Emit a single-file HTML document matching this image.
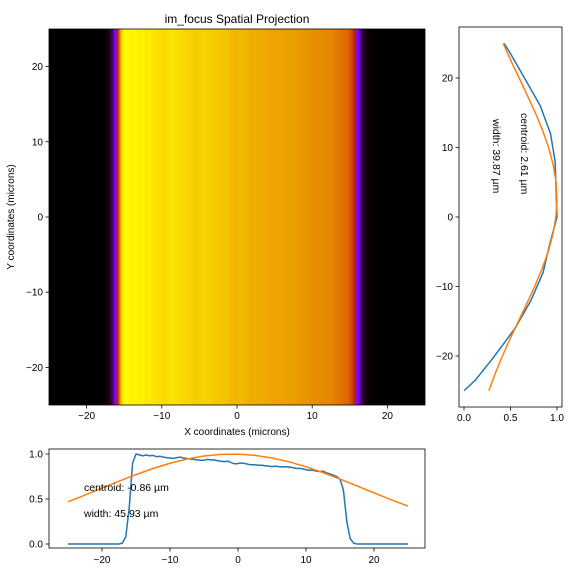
<!DOCTYPE html>
<html><head><meta charset="utf-8"><style>
body{margin:0;background:#fff;width:576px;height:576px;overflow:hidden}
svg{font-family:"Liberation Sans","DejaVu Sans",sans-serif}
</style></head><body>
<svg id="s" width="576" height="576" xmlns="http://www.w3.org/2000/svg">
<rect width="576" height="576" fill="#fff"/>
</svg>
<script>
// bottom profile, x from -25 to 25 step 0.5
const xProfile=[0,0,0,0,0,0,0,0,0,0,0,0,0,0,0,0,0.01,
0.08,0.4,0.9,1.0,0.99,0.98,0.99,0.98,0.985,0.97,0.975,0.965,0.96,0.955,0.95,0.96,0.965,0.955,0.95,0.945,0.94,0.935,0.93,0.93,0.94,0.935,0.935,0.925,0.92,0.915,0.92,0.905,0.89,0.895,0.9,0.895,0.885,0.88,0.88,0.875,0.875,0.87,0.865,0.86,0.865,0.86,0.855,0.86,0.855,0.85,0.84,0.84,0.835,0.825,0.82,0.82,0.81,0.805,0.81,0.79,0.78,0.765,0.75,0.72,0.6,0.25,0.06,
0.01,0,0,0,0,0,0,0,0,0,0,0,0,0,0,0,0];
// bottom gaussian fit, x from -25 step 2.5
const xFit=[0.469,0.544,0.621,0.698,0.771,0.839,0.897,0.944,0.978,0.996,0.999,0.985,0.956,0.913,0.858,0.793,0.721,0.645,0.568,0.492,0.42];
// right profile: y positions and values
const yProfPos=[-25,-23.5,-20.5,-16,-12,-8,-4,0,4,8,12,16,20,23.5,25];
const yProfVal=[0,0.12,0.3,0.55,0.72,0.85,0.92,1.0,0.99,0.98,0.93,0.82,0.65,0.5,0.43];
// right gaussian fit, y from -25 step 2.5
const yFit=[0.267,0.336,0.413,0.497,0.585,0.674,0.76,0.838,0.905,0.956,0.988,1.0,0.99,0.959,0.91,0.844,0.767,0.681,0.593,0.504,0.42];
const mainTicks=[-20,-10,0,10,20];
const bottomYTicks=[0,0.5,1.0];
const rightXTicks=[0,0.5,1.0];

const S=document.getElementById('s');const NS='http://www.w3.org/2000/svg';
function el(t,a,p){const e=document.createElementNS(NS,t);for(const k in a)e.setAttribute(k,a[k]);(p||S).appendChild(e);return e;}
function txt(s,a){const e=el('text',Object.assign({'font-size':10,fill:'#000'},a));e.textContent=s;return e;}

// main axes
const mx=v=>237+v*7.52, my=v=>217-v*7.52;
const gH=el('g',{});


el('rect',{x:49,y:29,width:376,height:376,fill:'#000'},gH);
function prof(x){const f=(x+25)/0.5;const i=Math.floor(f);if(i<0||i>=xProfile.length-1)return xProfile[Math.max(0,Math.min(xProfile.length-1,i))];const t=f-i;return xProfile[i]*(1-t)+xProfile[i+1]*t;}
function cmap(v){v=Math.max(0,Math.min(1,v));const r=Math.sqrt(v),g=v*v*v,b=Math.max(0,Math.sin(2*Math.PI*v));return `rgb(${Math.round(r*255)},${Math.round(g*255)},${Math.round(b*255)})`;}
for(let x=-25;x<25;x+=0.25){const v=prof(x+0.125);if(v<=0)continue;
 const c=el('rect',{x:mx(x),y:29,width:7.52*0.25+0.4,height:376,fill:cmap(v)},gH);
 
 }
el('rect',{x:49,y:29,width:376,height:376,fill:'none',stroke:'#000','stroke-width':0.8});
mainTicks.forEach(t=>{
 el('line',{x1:mx(t),x2:mx(t),y1:405,y2:408.5,stroke:'#000','stroke-width':0.8});
 txt(String(t).replace('-','−'),{x:mx(t),y:419,'text-anchor':'middle'});
 el('line',{x1:45.5,x2:49,y1:my(t),y2:my(t),stroke:'#000','stroke-width':0.8});
 txt(String(t).replace('-','−'),{x:43,y:my(t)+3.5,'text-anchor':'end'});
});
let t1=txt('im_focus Spatial Projection',{x:237,y:23,'text-anchor':'middle','font-size':12});

let t2=txt('X coordinates (microns)',{x:237,y:435,'text-anchor':'middle'});

let t3=txt('Y coordinates (microns)',{x:0,y:0,'text-anchor':'middle',transform:'translate(14,217) rotate(-90)'});


// bottom axes
const bx=v=>238+v*6.8, by=v=>544-v*90;
el('rect',{x:49,y:449,width:376,height:99,fill:'none',stroke:'#000','stroke-width':0.8});
mainTicks.forEach(t=>{el('line',{x1:bx(t),x2:bx(t),y1:548,y2:551.5,stroke:'#000','stroke-width':0.8});
 txt(String(t).replace('-','−'),{x:bx(t),y:563,'text-anchor':'middle'});});
bottomYTicks.forEach(t=>{el('line',{x1:45.5,x2:49,y1:by(t),y2:by(t),stroke:'#000','stroke-width':0.8});
 txt(t.toFixed(1),{x:43,y:by(t)+3.5,'text-anchor':'end'});});
let p1=el('polyline',{fill:'none',stroke:'#1f77b4','stroke-width':1.5,points:xProfile.map((v,i)=>bx(-25+i*0.5)+','+by(v)).join(' ')});

let p2=el('polyline',{fill:'none',stroke:'#ff7f0e','stroke-width':1.5,points:xFit.map((v,i)=>bx(-25+i*2.5)+','+by(v)).join(' ')});

let a1=txt('centroid: -0.86 µm',{x:84,y:491,'font-size':10.5});

let a2=txt('width: 45.93 µm',{x:84,y:517,'font-size':10.5});


// right axes
const rx=v=>464+v*93, ry=v=>217-v*6.95;
el('rect',{x:459,y:27,width:103,height:380,fill:'none',stroke:'#000','stroke-width':0.8});
mainTicks.forEach(t=>{el('line',{x1:455.5,x2:459,y1:ry(t),y2:ry(t),stroke:'#000','stroke-width':0.8});
 txt(String(t).replace('-','−'),{x:453,y:ry(t)+3.5,'text-anchor':'end'});});
rightXTicks.forEach(t=>{el('line',{x1:rx(t),x2:rx(t),y1:407,y2:410.5,stroke:'#000','stroke-width':0.8});
 txt(t.toFixed(1),{x:rx(t),y:421,'text-anchor':'middle'});});
let p3=el('polyline',{fill:'none',stroke:'#1f77b4','stroke-width':1.5,points:yProfPos.map((y,i)=>rx(yProfVal[i])+','+ry(y)).join(' ')});

let p4=el('polyline',{fill:'none',stroke:'#ff7f0e','stroke-width':1.5,points:yFit.map((v,i)=>rx(v)+','+ry(-25+i*2.5)).join(' ')});

let a3=txt('centroid: 2.61 µm',{x:0,y:0,'font-size':10.5,transform:'translate(521,113) rotate(90)'});

let a4=txt('width: 39.87 µm',{x:0,y:0,'font-size':10.5,transform:'translate(493,119) rotate(90)'});

</script>
</body></html>
